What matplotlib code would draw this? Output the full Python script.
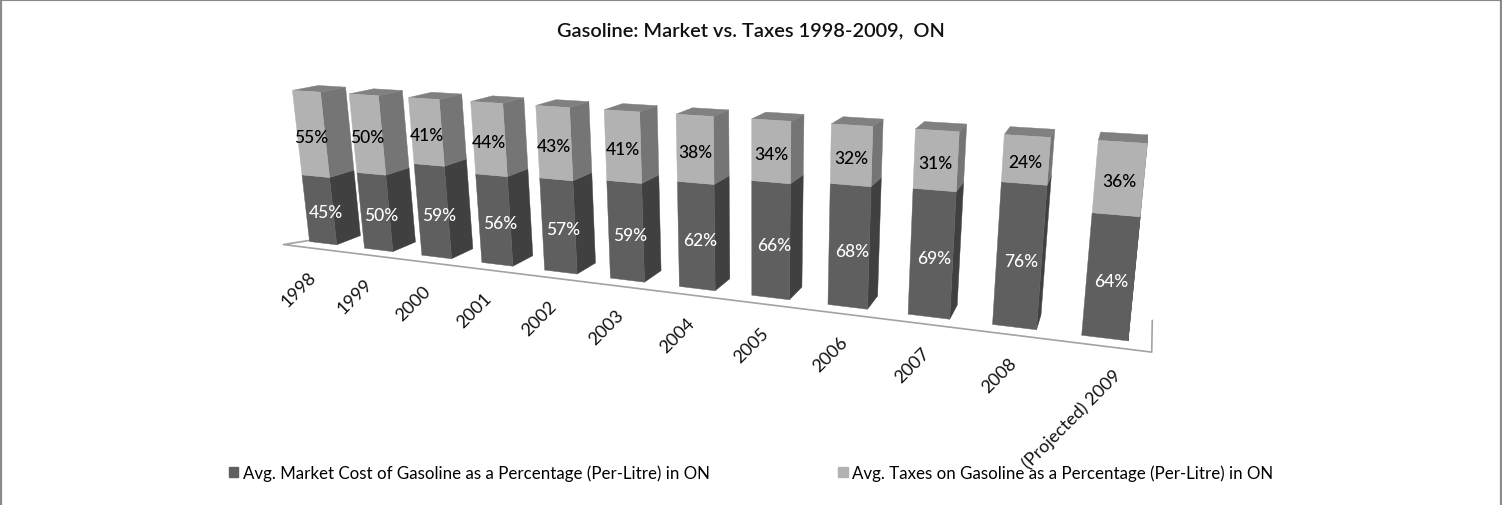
import numpy as np
import matplotlib
matplotlib.use('Agg')
import matplotlib.pyplot as plt
from matplotlib.patches import Patch

plt.rcParams['font.family'] = ['Lato', 'DejaVu Sans']

years = ['1998', '1999', '2000', '2001', '2002', '2003', '2004', '2005', '2006', '2007', '2008', '(Projected) 2009']
market = [45, 50, 59, 56, 57, 59, 62, 66, 68, 69, 76, 64]
taxes = [55, 50, 41, 44, 43, 41, 38, 34, 32, 31, 24, 36]
market_name = 'Avg. Market Cost of Gasoline as a Percentage (Per-Litre) in ON'
taxes_name = 'Avg. Taxes on Gasoline as a Percentage (Per-Litre) in ON'

# colours per series: front, side, top
market_col = ('#5f5f5f', '#404040', '#505050')
taxes_col = ('#b2b2b2', '#757575', '#808080')

# the 3d scale: (category, share, depth) -> picture pixel, fitted on the plot box
world = np.array([
    (0.25, 0, .5), (0.75, 0, .5), (0.75, 0, 1.5), (0.25, 1, .5), (0.75, 1, .5), (0.75, 1, 1.5), (0.25, 1, 1.5),
    (5.25, 1, .5), (5.75, 1, .5), (5.25, 0, .5), (5.75, 0, .5), (5.75, 0, 1.5),
    (7.25, 1, .5), (7.75, 1, .5), (7.25, 0, .5), (7.75, 0, .5),
    (9.25, 1, .5), (9.75, 1, .5), (9.25, 0, .5), (9.75, 0, .5),
    (11.25, 0, .5), (11.75, 0, .5), (11.25, 1, .5), (11.75, 1, .5), (11.25, 1, 1.5), (11.75, 1, 1.5),
    (0, 0, 0), (12, 0, 0), (12, 0, 2)], dtype=float)
pixels = np.array([
    (309, 243), (336, 246), (361, 235), (292, 92), (321, 94), (346, 88), (317, 87),
    (604, 110), (641, 113), (610, 279), (645, 283), (662, 272),
    (751, 120), (792, 122), (751, 297), (790, 301),
    (915, 129), (959, 132), (907, 315), (950, 320),
    (1082, 337), (1129, 342), (1098, 142), (1148, 144), (1100, 133), (1148, 136),
    (284, 245), (1151, 353), (1152, 322)], dtype=float)

rows, rhs = [], []
for (x, y, z), (u, v) in zip(world, pixels):
    rows.append([x, y, z, 1, 0, 0, 0, 0, -u * x, -u * y, -u * z])
    rows.append([0, 0, 0, 0, x, y, z, 1, -v * x, -v * y, -v * z])
    rhs += [u, v]
cam = np.append(np.linalg.lstsq(np.array(rows), np.array(rhs), rcond=None)[0], 1).reshape(3, 4)


def project(x, y, z):
    p = cam @ np.array([x, y, z, 1.0])
    return p[0] / p[2], p[1] / p[2]


def face(pts, color):
    xy = [project(*p) for p in pts]
    ax.fill([q[0] for q in xy], [q[1] for q in xy], color=color, lw=0.3, zorder=2)


fig = plt.figure(figsize=(15.02, 5.06), dpi=100)
ax = fig.add_axes([0, 0, 1, 1])
ax.set_xlim(0, 1502)
ax.set_ylim(506, 0)
ax.set_xticks([])
ax.set_yticks([])
ax.spines['bottom'].set_visible(False)
for s in ['left', 'top', 'right']:
    ax.spines[s].set_color('#8a8a8a')
    ax.spines[s].set_linewidth(3)

# floor outline
floor = [project(0.35, 0, 1.0), project(0, 0, 0), project(12, 0, 0), project(12, 0, 2)]
ax.plot([p[0] for p in floor], [p[1] for p in floor], color='#a3a3a3', lw=1.2, zorder=1)

for i in range(len(years)):
    x0, x1 = i + 0.25, i + 0.75
    y0, y1 = 0, market[i] / 100
    y2 = y1 + taxes[i] / 100
    for a, b, col in [(y0, y1, market_col), (y1, y2, taxes_col)]:
        face([(x1, a, .5), (x1, a, 1.5), (x1, b, 1.5), (x1, b, .5)], col[1])
    face([(x0, y2, .5), (x1, y2, .5), (x1, y2, 1.5), (x0, y2, 1.5)], taxes_col[2])
    for a, b, col in [(y0, y1, market_col), (y1, y2, taxes_col)]:
        face([(x0, a, .5), (x1, a, .5), (x1, b, .5), (x0, b, .5)], col[0])

    lx, ly = project(i + 0.5, y1 * 0.46, 0.7)
    ax.text(lx + 1, ly + 1.5, '%d%%' % market[i], color='white', fontsize=12.5, fontweight='medium',
            ha='center', va='center', zorder=3)
    lx, ly = project(i + 0.5, (y1 + y2) / 2, 0.5)
    ax.text(lx, ly + 2.5, '%d%%' % taxes[i], color='black', fontsize=12.5, fontweight='medium',
            ha='center', va='center', zorder=3)

    # the long last label sits further right than the plain years
    tx, ty = project(i + 0.5, 0, 0)
    dx = 9 if len(years[i]) > 4 else -3
    ax.text(tx + dx, ty + 20, years[i], rotation=45, rotation_mode='anchor', ha='right', va='top',
            fontsize=13, color='#111111', zorder=3)

ax.text(751, 31, 'Gasoline: Market vs. Taxes 1998-2009,  ON', fontsize=14.4, fontweight='semibold',
        ha='center', va='center', color='#111111')

handles = [Patch(color=market_col[0], label=market_name), Patch(color=taxes_col[0], label=taxes_name)]
ax.legend(handles=handles, ncol=2, frameon=False, loc='center left', bbox_to_anchor=(229 / 1502, 1 - 474 / 506),
          fontsize=12.2, handlelength=0.55, handleheight=0.55, handletextpad=0.25, columnspacing=7.6,
          borderpad=0, borderaxespad=0)

fig.savefig('out.png', dpi=100)
